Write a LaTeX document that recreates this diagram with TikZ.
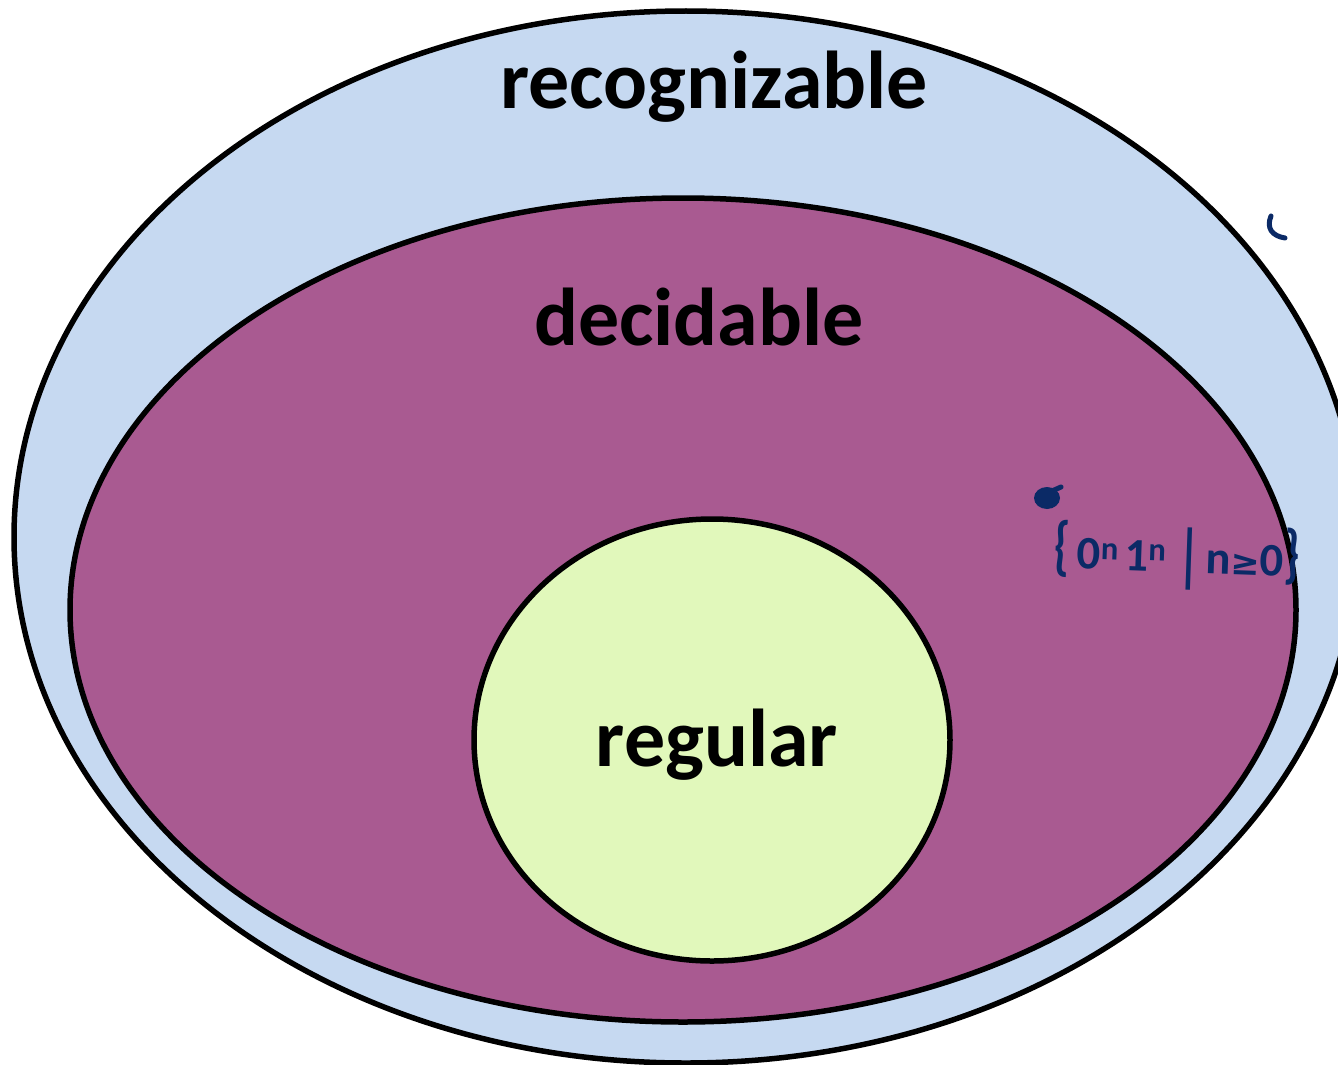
\documentclass[tikz,border=0pt]{standalone}
\usepackage{fontspec}
\setmainfont{Carlito}
\newfontfamily\symfont{DejaVu Sans}
\usepackage{graphicx}
\definecolor{recogblue}{HTML}{C6D9F1}
\definecolor{decpurple}{HTML}{A95A91}
\definecolor{reggreen}{HTML}{E1F8BB}
\definecolor{inkblue}{HTML}{0B2A66}
\tikzset{
  setline/.style={draw=black, line width=5.5pt},
  setlabel/.style={font=\bfseries\fontsize{82}{86}\selectfont, text=black, inner sep=0pt},
  ink/.style={draw=inkblue, line width=5pt, line cap=round, line join=round}
}
\begin{document}
\begin{tikzpicture}[x=1pt,y=-1pt]
  \useasboundingbox (0,0) rectangle (1338,1065);
  % nested language classes
  \path[setline, fill=recogblue] (686,537) ellipse [x radius=672, y radius=526];
  \path[setline, fill=decpurple] (683,610) ellipse [x radius=613, y radius=412];
  \path[setline, fill=reggreen] (712,740) ellipse [x radius=238, y radius=221];
  % class names
  \node[setlabel] (recog) at (714,87) {recognizable};
  \node[setlabel] (dec) at (699,317) {decidable};
  \node[setlabel] (reg) at (717,745) {regular};
  % handwritten example language
  \node[inner sep=0pt, text=inkblue, rotate=-2] (ex) at (1177,557)
    {\resizebox{246pt}{!}{\bfseries\fontsize{40}{44}\selectfont
      \scalebox{1}[1.4]{\{}\hspace{6pt}0\textsuperscript{n}\hspace{5pt}1\textsuperscript{n}\hspace{10pt}\raisebox{-5pt}{\scalebox{1}[1.5]{|}}\hspace{5pt}n{\symfont\bfseries\fontsize{30}{34}\selectfont ≥}0\scalebox{1}[1.4]{\}}}};
  \fill[inkblue] (1047,498) circle [x radius=13, y radius=11];
  \draw[ink] (1052,491) -- (1061,487);
  \draw[ink] (1271,216) .. controls (1266,228) and (1272,236) .. (1285,238);
\end{tikzpicture}
\end{document}
